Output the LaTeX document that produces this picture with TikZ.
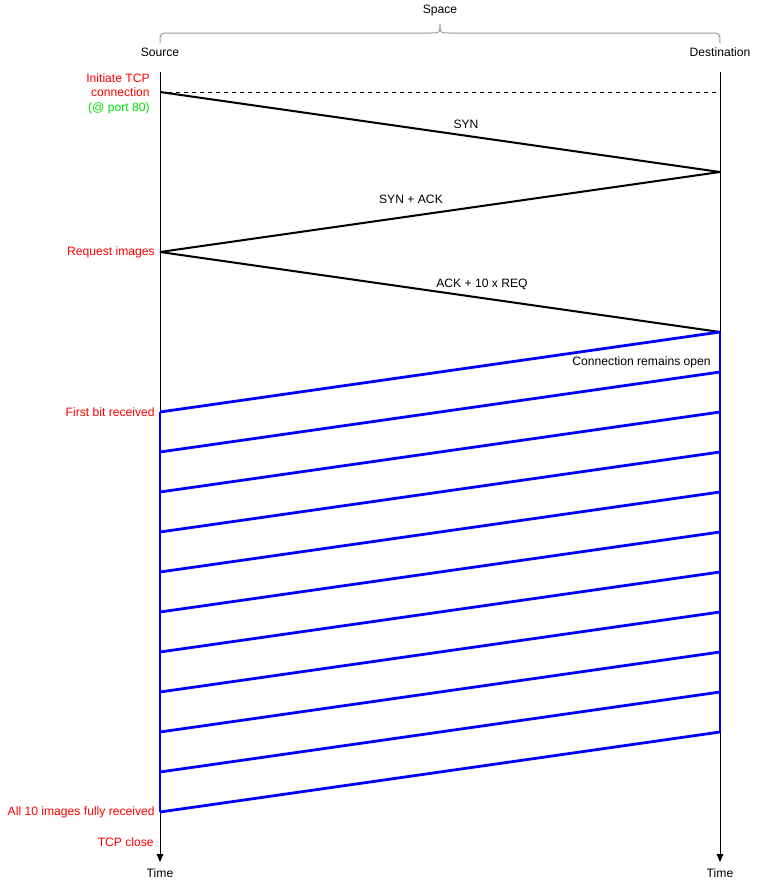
\documentclass[tikz,border=0pt]{standalone}
\usepackage{fontspec}
\setmainfont{Liberation Sans}
\usetikzlibrary{arrows.meta}
\definecolor{lblred}{HTML}{FF0000}
\definecolor{lblgreen}{HTML}{00E000}
\definecolor{pktblue}{HTML}{0000FF}
\begin{document}
\begin{tikzpicture}[x=0.75pt,y=-0.75pt,
  txt/.style={inner sep=0pt,font=\fontsize{9.1}{11}\selectfont},
  lbl/.style={txt,anchor=east,text=lblred},
  timeline/.style={line width=0.75pt,-{Triangle[length=6pt,width=5pt]}},
  msg/.style={line width=1.5pt,black},
  pkt/.style={line width=2.1pt,pktblue,line join=round},
  bracestyle/.style={line width=0.75pt,draw=black!40}]
\useasboundingbox (0,0) rectangle (761,883);
% headers
\node[txt] (space) at (440,11) {Space};
\node[txt] (src) at (160,52) {Source};
\node[txt] (dst) at (720,52) {Destination};
\draw[bracestyle] (160,43) .. controls (160,33) .. (170,33) -- (430,33) .. controls (440,33) .. (440,24) .. controls (440,33) .. (450,33) -- (710,33) .. controls (720,33) .. (720,43);
% time lines
\coordinate (s0) at (160,72);
\coordinate (d0) at (720,72);
\coordinate (se) at (160,862);
\coordinate (de) at (720,862);
\node[txt] (ts) at (160,873) {Time};
\node[txt] (td) at (720,873) {Time};
\draw[timeline] (s0) -- (se);
\draw[timeline] (d0) -- (de);
% handshake
\coordinate (a1) at (160,92);
\coordinate (b1) at (720,92);
\coordinate (b2) at (720,172);
\coordinate (a3) at (160,252);
\coordinate (b4) at (720,332);
\draw[dashed,line width=0.6pt] (a1) -- (b1);
\draw[msg] (a1) -- (b2);
\draw[msg] (b2) -- (a3);
\draw[msg] (a3) -- (b4);
\node[txt] (syn) at (466,124) {SYN};
\node[txt] (synack) at (411,199) {SYN + ACK};
\node[txt] (ackreq) at (482,284) {ACK + 10 x REQ};
% packets
\foreach \i in {0,...,10} {
  \coordinate (L\i) at (160,412+40*\i);
  \coordinate (R\i) at (720,332+40*\i);
}
\draw[pkt] (R0) -- (R10);
\draw[pkt] (L0) -- (L10);
\foreach \i in {0,...,10} {
  \draw[pkt] (L\i) -- (R\i);
}
\node[txt,anchor=east] (open) at (711,362) {Connection remains open};
% left labels
\node[lbl,align=right] (init) at (150,85) {Initiate TCP\\connection};
\node[lbl,text=lblgreen] (port) at (150,108) {(@ port 80)};
\node[lbl] (req) at (155,252) {Request images};
\node[lbl] (first) at (155,412) {First bit received};
\node[lbl] (all) at (155,812) {All 10 images fully received};
\node[lbl] (close) at (154,842) {TCP close};
\end{tikzpicture}
\end{document}
